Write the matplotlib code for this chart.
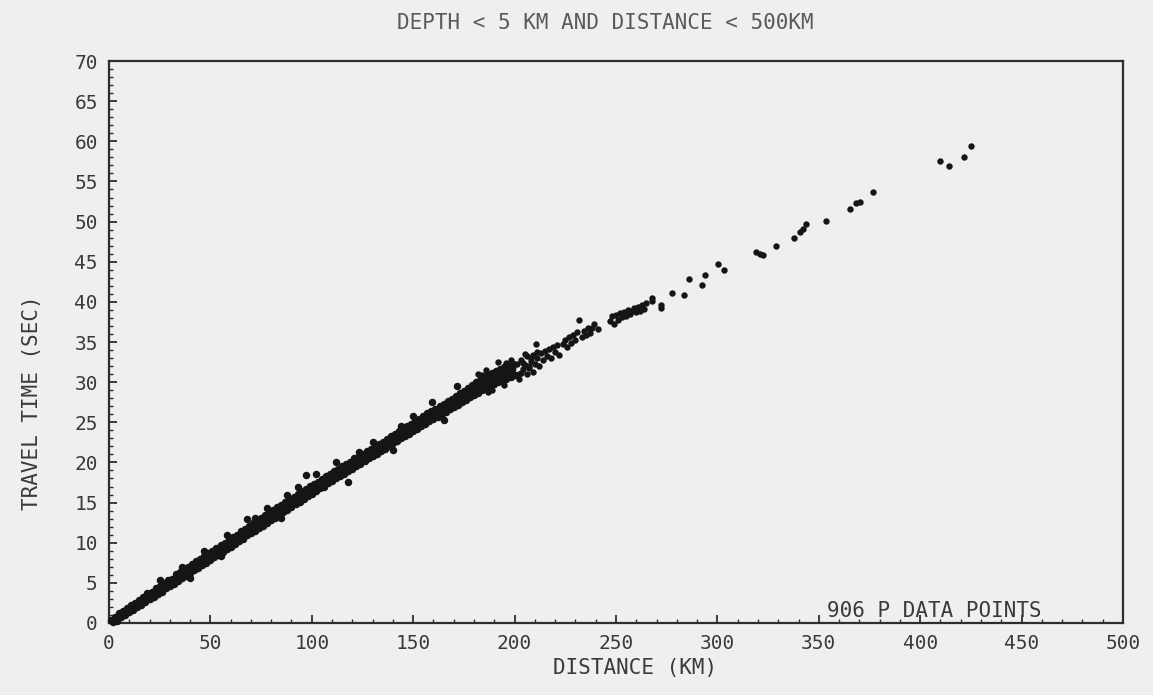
#!/usr/bin/env python3
"""Travel time vs distance scatter (P arrivals, shallow events)."""

import matplotlib
matplotlib.use("Agg")
import matplotlib.pyplot as plt
import matplotlib.ticker as mticker

# ---------------------------------------------------------------------------
# Data
# ---------------------------------------------------------------------------

near_km = [1, 2, 3, 4, 5, 6, 7, 8, 9, 10,
           11, 12, 13, 14, 15, 16, 17, 18, 19, 20,
           21, 22, 23, 24, 25, 26, 27, 28, 29, 30,
           31, 32, 33, 34, 35, 36, 37, 38, 39, 40,
           41, 42, 43, 44, 45, 46, 47, 48, 49, 50,
           51, 52, 53, 54, 55, 56, 57, 58, 59, 60,
           61, 62, 63, 64, 65, 66, 67, 68, 69, 70,
           71, 72, 73, 74, 75, 76, 77, 78, 79, 80,
           81, 82, 83, 84, 85, 86, 87, 88, 89, 90,
           91, 92, 93, 94, 95, 96, 97, 98, 99, 100]
near_sec = [0.4, 0.1, 0.8, 0.3, 1.2, 0.7, 1.5, 1.0, 1.9, 1.4,
            2.2, 1.6, 2.5, 2.0, 2.9, 2.3, 3.3, 2.6, 3.7, 3.0,
            3.9, 3.3, 4.4, 3.6, 4.6, 3.9, 5.0, 4.3, 5.4, 4.6,
            5.5, 4.9, 6.1, 5.2, 6.3, 5.6, 6.7, 5.9, 7.0, 6.2,
            7.3, 6.6, 7.7, 6.9, 8.0, 7.2, 8.3, 7.5, 8.7, 7.9,
            9.0, 8.2, 9.3, 8.5, 9.7, 8.9, 10.0, 9.2, 10.4, 9.5,
            10.7, 9.9, 11.0, 10.2, 11.4, 10.5, 11.7, 10.9, 12.1, 11.2,
            12.4, 11.5, 12.8, 11.8, 13.1, 12.1, 13.4, 12.5, 13.7, 12.8,
            14.1, 13.1, 14.4, 13.5, 14.7, 13.8, 15.1, 14.1, 15.4, 14.5,
            15.7, 14.8, 16.1, 15.1, 16.4, 15.4, 16.7, 15.8, 17.1, 16.1]

near2_km = [1.5, 3.5, 5.5, 7.5, 9.5, 11.5, 13.5, 15.5, 17.5, 19.5,
            21.5, 23.5, 25.5, 27.5, 29.5, 31.5, 33.5, 35.5, 37.5, 39.5,
            41.5, 43.5, 45.5, 47.5, 49.5, 51.5, 53.5, 55.5, 57.5, 59.5,
            61.5, 63.5, 65.5, 67.5, 69.5, 71.5, 73.5, 75.5, 77.5, 79.5,
            81.5, 83.5, 85.5, 87.5, 89.5, 91.5, 93.5, 95.5, 97.5, 99.5]
near2_sec = [0.2, 0.6, 0.9, 1.2, 1.6, 1.9, 2.3, 2.5, 2.9, 3.2,
             3.6, 3.9, 4.2, 4.6, 4.9, 5.2, 5.6, 5.9, 6.2, 6.6,
             6.9, 7.2, 7.6, 7.9, 8.2, 8.6, 8.9, 9.2, 9.6, 9.9,
             10.2, 10.5, 10.9, 11.2, 11.5, 11.9, 12.2, 12.5, 12.9, 13.2,
             13.5, 13.9, 14.2, 14.5, 14.9, 15.2, 15.5, 15.9, 16.2, 16.5]

mid_km = [101, 102, 103, 104, 105, 106, 107, 108, 109, 110,
          111, 112, 113, 114, 115, 116, 117, 118, 119, 120,
          121, 122, 123, 124, 125, 126, 127, 128, 129, 130,
          131, 132, 133, 134, 135, 136, 137, 138, 139, 140,
          141, 142, 143, 144, 145, 146, 147, 148, 149, 150,
          151, 152, 153, 154, 155, 156, 157, 158, 159, 160,
          161, 162, 163, 164, 165, 166, 167, 168, 169, 170,
          171, 172, 173, 174, 175, 176, 177, 178, 179, 180,
          181, 182, 183, 184, 185, 186, 187, 188, 189, 190,
          191, 192, 193, 194, 195, 196, 197, 198, 199, 200]
mid_sec = [17.3, 16.5, 17.6, 16.8, 17.9, 17.0, 18.3, 17.4, 18.5, 17.7,
           18.9, 18.0, 19.2, 18.3, 19.5, 18.6, 19.8, 18.9, 20.1, 19.2,
           20.5, 19.6, 20.7, 19.8, 21.1, 20.2, 21.4, 20.5, 21.7, 20.8,
           22.0, 21.1, 22.3, 21.4, 22.6, 21.7, 22.9, 22.1, 23.3, 22.4,
           23.6, 22.7, 23.9, 23.0, 24.2, 23.3, 24.5, 23.6, 24.8, 23.9,
           25.1, 24.2, 25.4, 24.5, 25.8, 24.8, 26.1, 25.1, 26.4, 25.4,
           26.7, 25.7, 27.0, 26.0, 27.3, 26.3, 27.6, 26.6, 27.9, 26.9,
           28.3, 27.2, 28.6, 27.5, 28.9, 27.8, 29.3, 28.1, 29.6, 28.4,
           30.0, 28.7, 30.3, 29.0, 30.6, 29.2, 30.9, 29.5, 31.2, 29.8,
           31.4, 30.0, 31.7, 30.2, 31.9, 30.4, 32.1, 30.6, 32.3, 30.9]

mid2_km = [100.5, 102.5, 104.5, 106.5, 108.5, 110.5, 112.5, 114.5, 116.5, 118.5,
           120.5, 122.5, 124.5, 126.5, 128.5, 130.5, 132.5, 134.5, 136.5, 138.5,
           140.5, 142.5, 144.5, 146.5, 148.5, 150.5, 152.5, 154.5, 156.5, 158.5,
           160.5, 162.5, 164.5, 166.5, 168.5, 170.5, 172.5, 174.5, 176.5, 178.5,
           180.5, 182.5, 184.5, 186.5, 188.5, 190.5, 192.5, 194.5, 196.5, 198.5]
mid2_sec = [16.7, 17.0, 17.3, 17.6, 17.9, 18.3, 18.6, 18.9, 19.2, 19.5,
            19.8, 20.1, 20.4, 20.8, 21.1, 21.4, 21.7, 22.0, 22.3, 22.6,
            23.0, 23.3, 23.6, 23.9, 24.2, 24.5, 24.8, 25.1, 25.4, 25.7,
            26.0, 26.4, 26.7, 27.0, 27.3, 27.6, 27.9, 28.2, 28.6, 28.9,
            29.2, 29.5, 29.8, 30.0, 30.3, 30.6, 30.8, 31.0, 31.3, 31.5]

clump_km = [182, 184, 186, 187, 189, 192, 195, 196, 198, 199,
            201, 202, 202, 203, 203, 204, 204, 205, 205, 206,
            206, 207, 207, 208, 208, 209, 209, 210, 210.6, 211,
            211, 212, 213, 214, 215, 216, 217, 218, 219, 220,
            221, 222, 224, 225, 226, 227, 228, 229, 230, 231,
            232, 233, 234, 235, 236, 237, 238, 239, 241, 247,
            248, 249, 250, 251, 252, 253, 254, 255, 256, 257,
            258, 259, 260, 261, 262, 263, 264, 265]
clump_sec = [31.0, 30.9, 31.5, 28.8, 29.0, 32.5, 29.6, 32.4, 32.8, 31.9,
             32.2, 31.0, 30.4, 32.8, 31.2, 31.6, 32.4, 32.1, 33.5, 33.2,
             31.0, 31.8, 32.0, 32.6, 33.0, 33.4, 31.3, 32.3, 34.7, 33.0,
             33.8, 32.0, 33.6, 32.8, 33.9, 33.2, 34.1, 33.0, 34.4, 33.7,
             34.6, 33.4, 34.8, 35.2, 34.4, 35.6, 34.9, 35.9, 35.3, 36.2,
             37.8, 35.6, 36.4, 35.9, 36.7, 36.1, 36.8, 37.2, 36.6, 37.6,
             38.2, 37.3, 38.4, 37.8, 38.6, 38.1, 38.8, 38.3, 39.0, 38.5,
             38.9, 39.2, 38.7, 39.4, 38.9, 39.6, 39.1, 39.8]

tail_km = [268, 268, 272, 272, 277.6, 283.5, 286, 292.6, 293.7, 300.2,
           303.5, 319.2, 320.8, 322.4, 328.7, 337.8, 340.9, 342.2, 343.9, 353.6,
           365.2, 368.5, 370.1, 376.5, 409.7, 414, 421.7, 424.8]
tail_sec = [40.5, 40.1, 39.6, 39.2, 41.1, 40.8, 42.8, 42.1, 43.3, 44.7,
            44.0, 46.2, 46.0, 45.8, 46.9, 48.0, 48.7, 49.1, 49.7, 50.1,
            51.6, 52.3, 52.5, 53.7, 57.5, 56.9, 58.0, 59.4]

stray_km = [25, 36, 40, 47, 55, 58, 68, 72, 78, 85,
            88, 93, 97, 102, 112, 118, 123.4, 130, 140, 144,
            150, 159.3, 165, 171.8]
stray_sec = [5.3, 7.0, 5.6, 9.0, 8.3, 11.0, 12.9, 13.1, 14.3, 13.1,
             16.0, 17.0, 18.4, 18.6, 20.0, 17.6, 21.3, 22.6, 21.5, 24.6,
             25.8, 27.5, 25.3, 29.5]

n_points_label = "906 P DATA POINTS"

# ---------------------------------------------------------------------------
# Style
# ---------------------------------------------------------------------------

_PAPER = "#efefef"
_INK = "#151515"
_AXIS = "#2e2e2e"
_LABEL = "#3a3a3a"
_TITLE = "#5a5a5a"
_FONT = "DejaVu Sans Mono"


def _style_ax(ax):
    ax.set_facecolor(_PAPER)
    for spine in ax.spines.values():
        spine.set_color(_AXIS)
        spine.set_linewidth(1.6)
    ax.set_xlim(0, 500)
    ax.set_ylim(0, 70)
    ax.xaxis.set_major_locator(mticker.MultipleLocator(50))
    ax.xaxis.set_minor_locator(mticker.MultipleLocator(10))
    ax.yaxis.set_major_locator(mticker.MultipleLocator(5))
    ax.yaxis.set_minor_locator(mticker.MultipleLocator(1))
    ax.tick_params(which="both", direction="in", colors=_AXIS,
                   top=False, right=False, labelcolor=_LABEL)
    ax.tick_params(which="major", length=6, width=1.3, labelsize=14, pad=8)
    ax.tick_params(which="minor", length=3, width=1.0)
    for lab in ax.get_xticklabels() + ax.get_yticklabels():
        lab.set_family(_FONT)


def main():
    fig = plt.figure(figsize=(11.53, 6.95), dpi=100)
    fig.patch.set_facecolor(_PAPER)
    ax = fig.add_axes([0.0945, 0.1036, 0.8795, 0.8086])
    _style_ax(ax)

    # dense band drawn with slightly fatter dots so it prints as a solid stroke
    band = [
        (near_km, near_sec),
        (near2_km, near2_sec),
        (mid_km, mid_sec),
        (mid2_km, mid2_sec),
        (stray_km, stray_sec),
    ]
    for km, sec in band:
        ax.plot(km, sec, "o", color=_INK, markersize=5.4, markeredgewidth=0,
                clip_on=False, zorder=3)
    for km, sec in [(clump_km, clump_sec), (tail_km, tail_sec)]:
        ax.plot(km, sec, "o", color=_INK, markersize=4.6, markeredgewidth=0,
                clip_on=False, zorder=3)

    ax.text(407, 0.25, n_points_label, ha="center", va="bottom",
            family=_FONT, fontsize=15, color=_LABEL)

    fig.text(0.525, 0.967, "DEPTH < 5 KM AND DISTANCE < 500KM", ha="center",
             va="center", family=_FONT, fontsize=15, color=_TITLE)
    fig.text(0.551, 0.039, "DISTANCE (KM)", ha="center", va="center",
             family=_FONT, fontsize=15, color=_LABEL)
    fig.text(0.028, 0.42, "TRAVEL TIME (SEC)", ha="center", va="center",
             rotation=90, family=_FONT, fontsize=15, color=_LABEL)

    fig.savefig("out.png", dpi=100, facecolor=_PAPER)
    plt.close(fig)


if __name__ == "__main__":
    main()
